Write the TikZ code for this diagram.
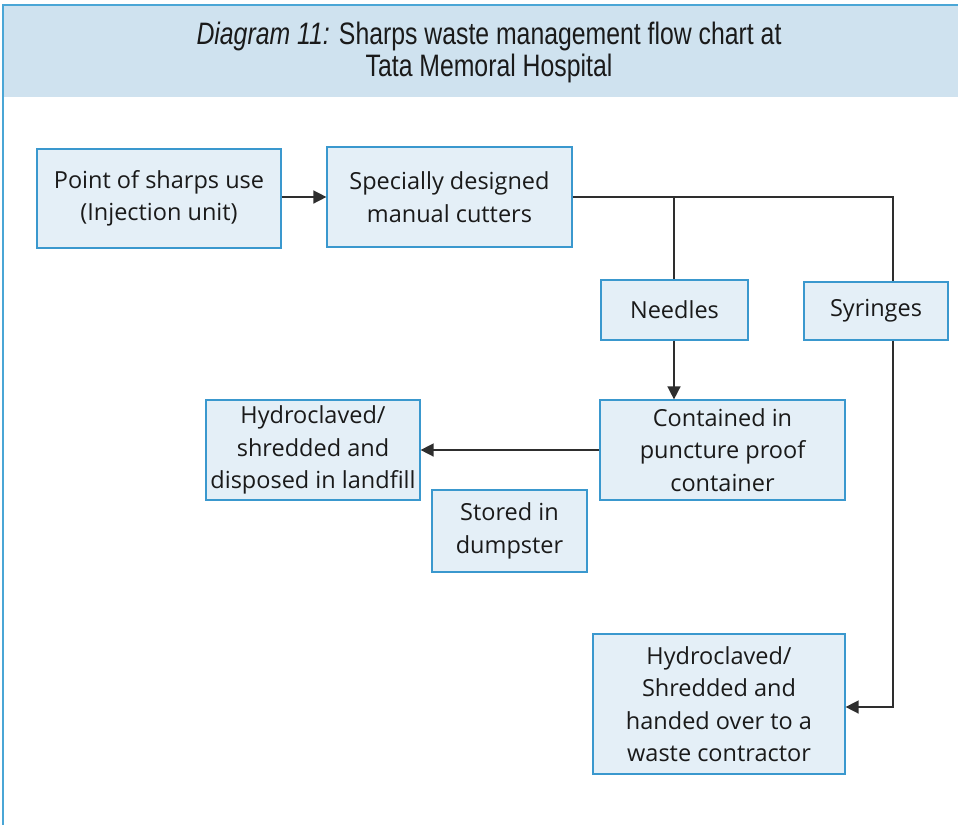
\documentclass[tikz,border=0pt]{standalone}
\usepackage{fontspec}
\setmainfont{Open Sans}
\newfontfamily\titlefont[FakeStretch=0.80]{Liberation Sans}
\usetikzlibrary{arrows.meta}
\definecolor{framec}{HTML}{4AA6D6}
\definecolor{titlebg}{HTML}{CFE2EF}
\definecolor{boxbg}{HTML}{E4EFF7}
\definecolor{boxline}{HTML}{3A98CE}
\definecolor{ink}{HTML}{1A1A1A}
\definecolor{wire}{HTML}{2E2E2E}
\begin{document}
\begin{tikzpicture}[x=1pt,y=-1pt,
  flowbox/.style={draw=boxline,fill=boxbg,line width=1.2pt,align=center,
    inner sep=0pt,text=ink,font=\fontsize{23.5}{32.5}\selectfont},
  link/.style={draw=wire,line width=1.5pt},
  linkarrow/.style={link,-{Triangle[length=13pt,width=13pt]}}]
\useasboundingbox (0,0) rectangle (958,825);
% title band and frame
\fill[titlebg] (3,5) rectangle (958,97);
\draw[framec,line width=1.2pt] (958,5) -- (3,5) -- (3,825);
\node[text=ink,font=\titlefont\fontsize{31}{32}\selectfont,align=center] (title) at (489,52)
  {\textit{Diagram 11:} Sharps waste management flow chart at\\Tata Memoral Hospital};
% boxes
\node[flowbox,minimum width=244pt,minimum height=99pt] (use) at (159,198.5)
  {Point of sharps use\\(Injection unit)};
\node[flowbox,minimum width=245pt,minimum height=100pt] (cut) at (449.5,197)
  {Specially designed\\manual cutters};
\node[flowbox,minimum width=147pt,minimum height=60pt] (ndl) at (674.5,310) {Needles};
\node[flowbox,minimum width=144pt,minimum height=58pt] (syr) at (876,311) {Syringes};
\node[flowbox,minimum width=245pt,minimum height=100pt] (box) at (722.5,450)
  {Contained in\\puncture proof\\container};
\node[flowbox,minimum width=214pt,minimum height=100pt] (land) at (313,450)
  {Hydroclaved/\\shredded and\\disposed in landfill};
\node[flowbox,minimum width=155pt,minimum height=82pt] (dump) at (509.5,531)
  {Stored in\\dumpster};
\node[flowbox,minimum width=252pt,minimum height=140pt] (contr) at (719,704)
  {Hydroclaved/\\Shredded and\\handed over to a\\waste contractor};
% junction points
\coordinate (jn) at (674,197);
\coordinate (js) at (893,197);
\coordinate (jb) at (893,707);
% connectors
\draw[linkarrow] (use.east |- 0,197) -- (cut.west |- 0,197);
\draw[link] (cut.east |- js) -- (js) -- (js |- syr.north);
\draw[link] (jn) -- (jn |- ndl.north);
\draw[linkarrow] (jn |- ndl.south) -- (jn |- box.north);
\draw[linkarrow] (box.west) -- (land.east);
\draw[linkarrow] (js |- syr.south) -- (jb) -- (contr.east |- jb);
\end{tikzpicture}
\end{document}
